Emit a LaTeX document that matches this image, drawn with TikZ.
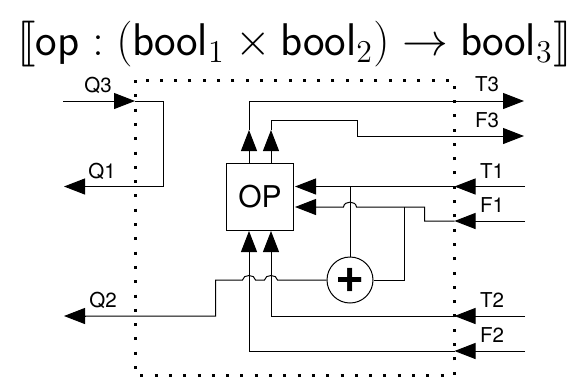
\documentclass[tikz,border=0pt]{standalone}
\usepackage{amsmath}
\usepackage{stmaryrd}
\usepackage{fontspec}
\setmainfont{TeX Gyre Heros}
\usetikzlibrary{arrows.meta}
\tikzset{
  x=1pt,y=-1pt,
  wire/.style={line width=1pt,line join=miter},
  arr/.style={line width=1pt,-{Triangle[length=21pt,width=16pt]}},
  boundary/.style={line width=3pt,dash pattern=on 3pt off 11.3pt},
  lab/.style={inner sep=0pt,font=\fontsize{20.5}{23}\selectfont},
  opbox/.style={draw,line width=1pt,inner sep=0pt,minimum width=67pt,minimum height=67pt,font=\fontsize{30}{34}\selectfont},
  addnode/.style={draw,circle,line width=1pt,inner sep=0pt,minimum size=46pt,font=\fontsize{50}{52}\selectfont\bfseries},
  titletext/.style={inner sep=0pt,scale=2.65}
}
\begin{document}
\begin{tikzpicture}
\useasboundingbox (0,0) rectangle (576,376);
\node[titletext] (title) at (294.5,44) {\LARGE$\llbracket\mathsf{op}:(\mathsf{bool}_1\times\mathsf{bool}_2)\rightarrow\mathsf{bool}_3\rrbracket$};
\draw[boundary] (135,80) rectangle (454.5,375);
\node[opbox] (op) at (260,196.5) {OP};
\node[addnode] (add) at (350,280) {+};

\coordinate (q3in) at (63,101);
\coordinate (q3b) at (135,101);
\coordinate (q3r) at (163,101);
\coordinate (q1r) at (163,186.5);
\coordinate (q1out) at (64,186.5);
\draw[arr] (q3in) -- (q3b);
\draw[wire] (q3b) -- (q3r) -- (q1r) -- (85,186.5);
\draw[arr] (85,186.5) -- (q1out);

% outputs
\coordinate (ot) at (249,163);
\coordinate (otip) at (249,130);
\coordinate (ou) at (271,163);
\coordinate (utip) at (271,130);
\draw[arr] (ot) -- (otip);
\draw[arr] (ou) -- (utip);
\coordinate (t3out) at (524,101);
\coordinate (f3out) at (524,136);
\draw[wire] (otip) -- (249,101) -- (503,101);
\draw[arr] (503,101) -- (t3out);
\draw[wire] (utip) -- (271,120) -- (357,120) -- (357,136) -- (503,136);
\draw[arr] (503,136) -- (f3out);

% T1
\coordinate (t1in) at (525,186.5);
\coordinate (t1b) at (454.5,186.5);
\coordinate (opt1) at (295,186.5);
\draw[arr] (t1in) -- (t1b);
\draw[arr] (t1b) -- (opt1);
% F1
\coordinate (f1in) at (525,221);
\coordinate (f1b) at (454.5,221);
\coordinate (opf1) at (295,207);
\draw[arr] (f1in) -- (f1b);
\draw[wire] (f1b) -- (424.7,221) -- (424.7,207) -- (356.5,207)
  .. controls (356,200.5) and (344,200.5) .. (343.5,207) -- (315,207);
\draw[arr] (315,207) -- (opf1);
% adder inputs
\draw[wire] (t1b -| add.north) -- (add.north);
\draw[wire] (add.east) -- (404,280) -- (404,207);
% Q2
\coordinate (q2out) at (64,316);
\draw[wire] (add.west) -- (277.5,280)
  .. controls (277,274) and (265,274) .. (264.5,280) -- (255.5,280)
  .. controls (255,274) and (243,274) .. (242.5,280) -- (215.7,280) -- (215.7,316) -- (85,316);
\draw[arr] (85,316) -- (q2out);
% T2
\coordinate (t2in) at (525,316);
\coordinate (t2b) at (454.5,316);
\coordinate (t2tip) at (271,231);
\draw[arr] (t2in) -- (t2b);
\draw[wire] (t2b) -- (271,316) -- (271,252);
\draw[arr] (271,252) -- (t2tip);
% F2
\coordinate (f2in) at (525,351);
\coordinate (f2b) at (454.5,351);
\coordinate (f2tip) at (249,231);
\draw[arr] (f2in) -- (f2b);
\draw[wire] (f2b) -- (249,351) -- (249,252);
\draw[arr] (249,252) -- (f2tip);

\node[lab] (lq3) at (98,85) {Q3};
\node[lab] (lq1) at (102,171) {Q1};
\node[lab] (lq2) at (103,300) {Q2};
\node[lab] (lt3) at (487,84) {T3};
\node[lab] (lf3) at (487,120) {F3};
\node[lab] (lt1) at (492,171) {T1};
\node[lab] (lf1) at (492,205) {F1};
\node[lab] (lt2) at (492,300) {T2};
\node[lab] (lf2) at (492,335) {F2};
\end{tikzpicture}
\end{document}
